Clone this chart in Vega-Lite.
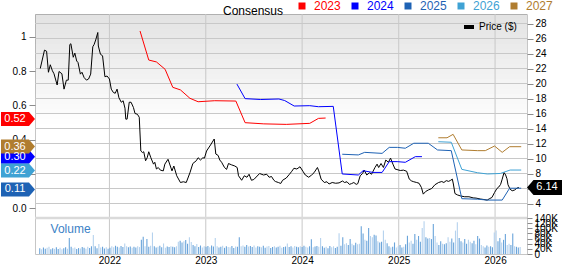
{
"$schema":"https://vega.github.io/schema/vega-lite/v6.json",
"width":492,"height":240,
"autosize":{"type":"none"},
"padding":{"left":35,"top":14,"right":35,"bottom":10},
"background":"#ffffff",
"config":{
 "font":"Liberation Sans",
 "view":{"stroke":"#c6c6c6","strokeWidth":1},
 "axis":{"labelFont":"Liberation Sans","labelFontSize":10,"labelColor":"#111111","domain":false,"title":null,"grid":false,"tickColor":"#8c8c8c"},
 "legend":{"labelFont":"Liberation Sans","titleFont":"Liberation Sans","padding":0}
},
"resolve":{"scale":{"y":"independent"}},
"datasets":{
"bands":[{"k":0},{"k":1},{"k":2},{"k":3},{"k":4},{"k":5},{"k":6},{"k":7},{"k":8},{"k":9},{"k":10},{"k":11},{"k":12},{"k":13},{"k":14},{"k":15},{"k":16},{"k":17},{"k":18},{"k":19},{"k":20},{"k":21}],
"pgrid":[{"g":4},{"g":6},{"g":8},{"g":10},{"g":12},{"g":14},{"g":16},{"g":18},{"g":20},{"g":22},{"g":24},{"g":26},{"g":28}],
"years":[{"d":"2022-01-01"},{"d":"2023-01-01"},{"d":"2024-01-01"},{"d":"2025-01-01"},{"d":"2026-01-01"}],
"price":[
{"d":"2021-04-14","p":22.0},{"d":"2021-04-30","p":24.45},{"d":"2021-05-08","p":24.3},{"d":"2021-05-15","p":21.5},{"d":"2021-05-22","p":22.5},{"d":"2021-05-30","p":21.7},{"d":"2021-06-05","p":21.3},{"d":"2021-06-17","p":19.8},{"d":"2021-06-24","p":21.6},{"d":"2021-07-05","p":21.3},{"d":"2021-07-13","p":19.25},{"d":"2021-07-22","p":20.45},{"d":"2021-07-29","p":20.45},{"d":"2021-08-04","p":25.2},{"d":"2021-08-08","p":25.3},{"d":"2021-08-17","p":23.5},{"d":"2021-08-23","p":24.05},{"d":"2021-08-30","p":23.0},{"d":"2021-09-04","p":22.8},{"d":"2021-09-13","p":21.25},{"d":"2021-09-19","p":21.5},{"d":"2021-09-27","p":20.8},{"d":"2021-10-06","p":20.45},{"d":"2021-10-14","p":20.6},{"d":"2021-10-22","p":21.25},{"d":"2021-10-30","p":24.9},{"d":"2021-11-04","p":25.2},{"d":"2021-11-10","p":25.8},{"d":"2021-11-18","p":26.8},{"d":"2021-11-20","p":25.0},{"d":"2021-11-28","p":23.9},{"d":"2021-12-06","p":23.7},{"d":"2021-12-15","p":20.9},{"d":"2021-12-23","p":21.0},
{"d":"2022-01-01","p":20.6},{"d":"2022-01-08","p":19.25},{"d":"2022-01-16","p":18.8},{"d":"2022-01-23","p":18.7},{"d":"2022-01-30","p":19.25},{"d":"2022-02-06","p":18.1},{"d":"2022-02-15","p":17.5},{"d":"2022-02-22","p":17.7},{"d":"2022-03-01","p":16.7},{"d":"2022-03-04","p":15.25},{"d":"2022-03-09","p":15.25},{"d":"2022-03-17","p":17.5},{"d":"2022-03-24","p":17.5},{"d":"2022-04-02","p":16.8},{"d":"2022-04-08","p":16.0},{"d":"2022-04-17","p":15.9},{"d":"2022-04-24","p":15.5},{"d":"2022-04-30","p":11.0},{"d":"2022-05-06","p":10.8},{"d":"2022-05-11","p":10.9},{"d":"2022-05-18","p":9.7},{"d":"2022-05-24","p":10.1},{"d":"2022-05-30","p":10.9},{"d":"2022-06-07","p":10.1},{"d":"2022-06-17","p":9.25},{"d":"2022-06-22","p":9.5},{"d":"2022-06-28","p":8.6},{"d":"2022-07-05","p":8.8},{"d":"2022-07-13","p":8.45},{"d":"2022-07-24","p":8.35},{"d":"2022-07-30","p":9.25},{"d":"2022-08-11","p":9.9},{"d":"2022-08-26","p":8.35},{"d":"2022-09-02","p":9.0},{"d":"2022-09-13","p":7.7},{"d":"2022-09-27","p":6.8},{"d":"2022-10-08","p":6.9},{"d":"2022-10-19","p":6.8},{"d":"2022-11-02","p":8.1},{"d":"2022-11-13","p":9.33},{"d":"2022-11-26","p":9.7},{"d":"2022-12-03","p":10.1},{"d":"2022-12-12","p":9.8},{"d":"2022-12-21","p":10.1},{"d":"2022-12-27","p":10.05},
{"d":"2023-01-04","p":11.0},{"d":"2023-01-19","p":11.8},{"d":"2023-01-26","p":12.2},{"d":"2023-02-02","p":12.6},{"d":"2023-02-08","p":10.6},{"d":"2023-02-17","p":10.4},{"d":"2023-02-23","p":9.8},{"d":"2023-03-02","p":9.5},{"d":"2023-03-13","p":8.8},{"d":"2023-03-21","p":8.55},{"d":"2023-03-28","p":9.33},{"d":"2023-04-09","p":9.15},{"d":"2023-04-21","p":9.0},{"d":"2023-04-30","p":8.8},{"d":"2023-05-05","p":7.7},{"d":"2023-05-17","p":7.1},{"d":"2023-05-27","p":7.7},{"d":"2023-06-06","p":7.5},{"d":"2023-06-14","p":7.9},{"d":"2023-06-23","p":7.1},{"d":"2023-07-02","p":7.2},{"d":"2023-07-24","p":8.0},{"d":"2023-08-08","p":7.8},{"d":"2023-08-20","p":7.9},{"d":"2023-08-29","p":7.5},{"d":"2023-09-07","p":7.6},{"d":"2023-09-16","p":7.1},{"d":"2023-09-22","p":6.93},{"d":"2023-10-03","p":6.8},{"d":"2023-10-12","p":6.67},{"d":"2023-10-19","p":7.1},{"d":"2023-11-02","p":7.4},{"d":"2023-11-14","p":7.9},{"d":"2023-11-23","p":8.3},{"d":"2023-12-01","p":8.7},{"d":"2023-12-12","p":8.6},{"d":"2023-12-24","p":8.9},
{"d":"2024-01-04","p":8.3},{"d":"2024-01-13","p":7.8},{"d":"2024-01-26","p":7.5},{"d":"2024-02-06","p":7.8},{"d":"2024-02-15","p":8.1},{"d":"2024-02-28","p":8.8},{"d":"2024-03-04","p":8.35},{"d":"2024-03-13","p":7.25},{"d":"2024-03-25","p":6.8},{"d":"2024-04-04","p":6.9},{"d":"2024-04-12","p":6.6},{"d":"2024-04-24","p":6.8},{"d":"2024-05-07","p":6.7},{"d":"2024-05-20","p":6.75},{"d":"2024-06-02","p":7.0},{"d":"2024-06-10","p":6.8},{"d":"2024-06-19","p":6.9},{"d":"2024-06-28","p":6.55},{"d":"2024-07-06","p":6.65},{"d":"2024-07-15","p":6.8},{"d":"2024-07-24","p":6.55},{"d":"2024-07-30","p":6.65},{"d":"2024-08-08","p":7.7},{"d":"2024-08-17","p":8.0},{"d":"2024-08-23","p":8.45},{"d":"2024-09-02","p":7.8},{"d":"2024-09-12","p":8.1},{"d":"2024-09-20","p":7.9},{"d":"2024-10-03","p":8.8},{"d":"2024-10-11","p":9.25},{"d":"2024-10-17","p":8.8},{"d":"2024-10-26","p":9.33},{"d":"2024-11-04","p":8.8},{"d":"2024-11-13","p":9.8},{"d":"2024-11-23","p":9.5},{"d":"2024-12-01","p":10.05},{"d":"2024-12-10","p":9.25},{"d":"2024-12-18","p":8.6},
{"d":"2025-01-07","p":8.4},{"d":"2025-01-19","p":8.45},{"d":"2025-01-31","p":8.3},{"d":"2025-02-10","p":7.25},{"d":"2025-02-19","p":7.0},{"d":"2025-02-27","p":6.9},{"d":"2025-03-10","p":6.8},{"d":"2025-03-19","p":6.7},{"d":"2025-03-28","p":6.13},{"d":"2025-04-04","p":5.25},{"d":"2025-04-13","p":5.6},{"d":"2025-04-23","p":5.8},{"d":"2025-05-06","p":6.0},{"d":"2025-05-18","p":6.5},{"d":"2025-06-01","p":6.8},{"d":"2025-06-13","p":6.93},{"d":"2025-06-21","p":6.8},{"d":"2025-06-30","p":7.05},{"d":"2025-07-09","p":6.95},{"d":"2025-07-17","p":7.1},{"d":"2025-07-23","p":7.25},{"d":"2025-07-27","p":6.6},{"d":"2025-08-02","p":5.33},{"d":"2025-08-11","p":5.15},{"d":"2025-08-24","p":5.0},{"d":"2025-09-08","p":4.9},{"d":"2025-09-24","p":4.9},{"d":"2025-10-10","p":4.75},{"d":"2025-10-21","p":4.72},{"d":"2025-11-06","p":4.6},{"d":"2025-11-20","p":4.53},{"d":"2025-12-02","p":4.45},{"d":"2025-12-11","p":4.65},{"d":"2025-12-20","p":4.8},{"d":"2025-12-30","p":5.47},
{"d":"2026-01-08","p":6.0},{"d":"2026-01-15","p":6.2},{"d":"2026-01-22","p":6.55},{"d":"2026-01-28","p":7.25},{"d":"2026-02-04","p":8.13},{"d":"2026-02-10","p":7.8},{"d":"2026-02-15","p":7.3},{"d":"2026-02-19","p":6.5},{"d":"2026-02-27","p":5.9},{"d":"2026-03-07","p":5.7},{"d":"2026-03-16","p":5.8},{"d":"2026-03-25","p":6.05},{"d":"2026-04-01","p":6.14}
],
"cons":[
{"s":"2023","d":"2022-04-27","v":1.033},{"s":"2023","d":"2022-05-30","v":0.864},{"s":"2023","d":"2022-06-28","v":0.853},{"s":"2023","d":"2022-07-31","v":0.81},{"s":"2023","d":"2022-08-29","v":0.705},{"s":"2023","d":"2022-09-27","v":0.69},{"s":"2023","d":"2022-11-02","v":0.641},{"s":"2023","d":"2022-12-03","v":0.621},{"s":"2023","d":"2023-02-04","v":0.627},{"s":"2023","d":"2023-04-25","v":0.625},{"s":"2023","d":"2023-05-30","v":0.499},{"s":"2023","d":"2023-08-09","v":0.492},{"s":"2023","d":"2023-11-02","v":0.489},{"s":"2023","d":"2024-01-30","v":0.495},{"s":"2023","d":"2024-03-03","v":0.524},{"s":"2023","d":"2024-03-30","v":0.526},
{"s":"2024","d":"2023-04-29","v":0.724},{"s":"2024","d":"2023-05-30","v":0.639},{"s":"2024","d":"2023-07-28","v":0.634},{"s":"2024","d":"2023-10-05","v":0.637},{"s":"2024","d":"2023-10-27","v":0.628},{"s":"2024","d":"2023-12-02","v":0.596},{"s":"2024","d":"2024-01-30","v":0.598},{"s":"2024","d":"2024-03-03","v":0.592},{"s":"2024","d":"2024-04-28","v":0.594},{"s":"2024","d":"2024-06-01","v":0.2},{"s":"2024","d":"2024-08-01","v":0.194},{"s":"2024","d":"2024-08-19","v":0.219},{"s":"2024","d":"2024-09-25","v":0.209},{"s":"2024","d":"2024-10-30","v":0.209},{"s":"2024","d":"2024-11-26","v":0.272},{"s":"2024","d":"2024-12-26","v":0.272},{"s":"2024","d":"2025-01-26","v":0.268},{"s":"2024","d":"2025-03-05","v":0.301},{"s":"2024","d":"2025-03-30","v":0.301},
{"s":"2025","d":"2024-06-01","v":0.315},{"s":"2025","d":"2024-08-01","v":0.311},{"s":"2025","d":"2024-08-25","v":0.326},{"s":"2025","d":"2024-10-30","v":0.32},{"s":"2025","d":"2024-11-26","v":0.355},{"s":"2025","d":"2024-12-27","v":0.355},{"s":"2025","d":"2025-01-26","v":0.35},{"s":"2025","d":"2025-02-27","v":0.379},{"s":"2025","d":"2025-04-23","v":0.379},{"s":"2025","d":"2025-05-28","v":0.34},{"s":"2025","d":"2025-07-19","v":0.336},{"s":"2025","d":"2025-08-28","v":0.056},{"s":"2025","d":"2025-10-27","v":0.053},{"s":"2025","d":"2025-12-03","v":0.048},{"s":"2025","d":"2026-01-28","v":0.048},{"s":"2025","d":"2026-02-25","v":0.117},{"s":"2025","d":"2026-04-10","v":0.117},
{"s":"2026","d":"2025-05-31","v":0.388},{"s":"2026","d":"2025-07-19","v":0.385},{"s":"2026","d":"2025-08-28","v":0.227},{"s":"2026","d":"2025-10-27","v":0.207},{"s":"2026","d":"2025-12-03","v":0.2},{"s":"2026","d":"2026-01-21","v":0.203},{"s":"2026","d":"2026-02-27","v":0.223},{"s":"2026","d":"2026-04-10","v":0.223},
{"s":"2027","d":"2025-05-31","v":0.411},{"s":"2027","d":"2025-07-03","v":0.411},{"s":"2027","d":"2025-07-26","v":0.431},{"s":"2027","d":"2025-08-28","v":0.34},{"s":"2027","d":"2025-10-27","v":0.336},{"s":"2027","d":"2025-11-25","v":0.336},{"s":"2027","d":"2025-12-30","v":0.363},{"s":"2027","d":"2026-01-28","v":0.326},{"s":"2027","d":"2026-02-25","v":0.359},{"s":"2027","d":"2026-04-10","v":0.359}
],
"tags":[
{"s":"2024","v":0.30,"t":"0.30"},{"s":"2023","v":0.52,"t":"0.52"},{"s":"2027","v":0.36,"t":"0.36"},{"s":"2026","v":0.22,"t":"0.22"},{"s":"2025","v":0.11,"t":"0.11"}
],
"vol":[
{"d":"2021-04-12","v":22,"c":"b"},{"d":"2021-04-19","v":18,"c":"a"},{"d":"2021-04-26","v":25,"c":"b"},{"d":"2021-05-03","v":20,"c":"b"},{"d":"2021-05-10","v":24,"c":"a"},{"d":"2021-05-17","v":28,"c":"a"},{"d":"2021-05-24","v":18,"c":"b"},{"d":"2021-05-31","v":22,"c":"b"},{"d":"2021-06-07","v":20,"c":"a"},{"d":"2021-06-14","v":26,"c":"b"},{"d":"2021-06-21","v":19,"c":"b"},{"d":"2021-06-28","v":24,"c":"a"},{"d":"2021-07-05","v":18,"c":"a"},{"d":"2021-07-12","v":22,"c":"b"},{"d":"2021-07-19","v":26,"c":"b"},{"d":"2021-07-26","v":20,"c":"a"},{"d":"2021-08-02","v":62,"c":"b"},{"d":"2021-08-09","v":28,"c":"b"},{"d":"2021-08-16","v":22,"c":"a"},{"d":"2021-08-23","v":25,"c":"a"},{"d":"2021-08-30","v":19,"c":"b"},{"d":"2021-09-06","v":23,"c":"b"},{"d":"2021-09-13","v":21,"c":"a"},{"d":"2021-09-20","v":27,"c":"b"},{"d":"2021-09-27","v":24,"c":"b"},{"d":"2021-10-04","v":20,"c":"a"},{"d":"2021-10-11","v":28,"c":"a"},{"d":"2021-10-18","v":23,"c":"b"},{"d":"2021-10-25","v":30,"c":"b"},{"d":"2021-11-01","v":74,"c":"a"},{"d":"2021-11-08","v":30,"c":"b"},{"d":"2021-11-15","v":22,"c":"b"},{"d":"2021-11-22","v":39,"c":"a"},{"d":"2021-11-29","v":25,"c":"a"},{"d":"2021-12-06","v":28,"c":"b"},{"d":"2021-12-13","v":21,"c":"b"},{"d":"2021-12-20","v":26,"c":"a"},{"d":"2021-12-27","v":20,"c":"b"},
{"d":"2022-01-03","v":24,"c":"b"},{"d":"2022-01-10","v":30,"c":"a"},{"d":"2022-01-17","v":26,"c":"a"},{"d":"2022-01-24","v":32,"c":"b"},{"d":"2022-01-31","v":28,"c":"b"},{"d":"2022-02-07","v":25,"c":"a"},{"d":"2022-02-14","v":31,"c":"b"},{"d":"2022-02-21","v":27,"c":"b"},{"d":"2022-02-28","v":41,"c":"a"},{"d":"2022-03-07","v":30,"c":"a"},{"d":"2022-03-14","v":26,"c":"b"},{"d":"2022-03-21","v":29,"c":"b"},{"d":"2022-03-28","v":24,"c":"a"},{"d":"2022-04-04","v":28,"c":"b"},{"d":"2022-04-11","v":25,"c":"b"},{"d":"2022-04-18","v":30,"c":"a"},{"d":"2022-04-25","v":27,"c":"a"},{"d":"2022-05-02","v":55,"c":"b"},{"d":"2022-05-09","v":67,"c":"b"},{"d":"2022-05-16","v":30,"c":"a"},{"d":"2022-05-23","v":58,"c":"b"},{"d":"2022-05-30","v":28,"c":"b"},{"d":"2022-06-06","v":32,"c":"a"},{"d":"2022-06-13","v":84,"c":"a"},{"d":"2022-06-20","v":30,"c":"b"},{"d":"2022-06-27","v":25,"c":"b"},{"d":"2022-07-04","v":28,"c":"a"},{"d":"2022-07-11","v":32,"c":"b"},{"d":"2022-07-18","v":26,"c":"b"},{"d":"2022-07-25","v":41,"c":"a"},{"d":"2022-08-01","v":24,"c":"a"},{"d":"2022-08-08","v":29,"c":"b"},{"d":"2022-08-15","v":27,"c":"b"},{"d":"2022-08-22","v":30,"c":"a"},{"d":"2022-08-29","v":28,"c":"b"},{"d":"2022-09-05","v":26,"c":"b"},{"d":"2022-09-12","v":30,"c":"a"},{"d":"2022-09-19","v":48,"c":"a"},{"d":"2022-09-26","v":52,"c":"b"},{"d":"2022-10-03","v":45,"c":"b"},{"d":"2022-10-10","v":50,"c":"a"},{"d":"2022-10-17","v":54,"c":"b"},{"d":"2022-10-24","v":40,"c":"b"},{"d":"2022-10-31","v":65,"c":"a"},{"d":"2022-11-07","v":47,"c":"a"},{"d":"2022-11-14","v":35,"c":"b"},{"d":"2022-11-21","v":30,"c":"b"},{"d":"2022-11-28","v":39,"c":"a"},{"d":"2022-12-05","v":27,"c":"b"},{"d":"2022-12-12","v":33,"c":"b"},{"d":"2022-12-19","v":25,"c":"a"},{"d":"2022-12-26","v":30,"c":"a"},
{"d":"2023-01-02","v":28,"c":"b"},{"d":"2023-01-09","v":31,"c":"b"},{"d":"2023-01-16","v":26,"c":"a"},{"d":"2023-01-23","v":33,"c":"b"},{"d":"2023-01-30","v":29,"c":"b"},{"d":"2023-02-06","v":62,"c":"a"},{"d":"2023-02-13","v":30,"c":"a"},{"d":"2023-02-20","v":25,"c":"b"},{"d":"2023-02-27","v":28,"c":"b"},{"d":"2023-03-06","v":32,"c":"a"},{"d":"2023-03-13","v":24,"c":"b"},{"d":"2023-03-20","v":30,"c":"b"},{"d":"2023-03-27","v":27,"c":"a"},{"d":"2023-04-03","v":26,"c":"a"},{"d":"2023-04-10","v":31,"c":"b"},{"d":"2023-04-17","v":23,"c":"b"},{"d":"2023-04-24","v":29,"c":"a"},{"d":"2023-05-01","v":28,"c":"b"},{"d":"2023-05-08","v":65,"c":"b"},{"d":"2023-05-15","v":30,"c":"a"},{"d":"2023-05-22","v":33,"c":"a"},{"d":"2023-05-29","v":28,"c":"b"},{"d":"2023-06-05","v":35,"c":"b"},{"d":"2023-06-12","v":29,"c":"a"},{"d":"2023-06-19","v":31,"c":"b"},{"d":"2023-06-26","v":27,"c":"b"},{"d":"2023-07-03","v":33,"c":"a"},{"d":"2023-07-10","v":25,"c":"a"},{"d":"2023-07-17","v":30,"c":"b"},{"d":"2023-07-24","v":28,"c":"b"},{"d":"2023-07-31","v":26,"c":"a"},{"d":"2023-08-07","v":32,"c":"b"},{"d":"2023-08-14","v":24,"c":"b"},{"d":"2023-08-21","v":29,"c":"a"},{"d":"2023-08-28","v":31,"c":"a"},{"d":"2023-09-04","v":23,"c":"b"},{"d":"2023-09-11","v":27,"c":"b"},{"d":"2023-09-18","v":30,"c":"a"},{"d":"2023-09-25","v":25,"c":"b"},{"d":"2023-10-02","v":28,"c":"b"},{"d":"2023-10-09","v":32,"c":"a"},{"d":"2023-10-16","v":24,"c":"a"},{"d":"2023-10-23","v":27,"c":"b"},{"d":"2023-10-30","v":29,"c":"b"},{"d":"2023-11-06","v":41,"c":"a"},{"d":"2023-11-13","v":27,"c":"b"},{"d":"2023-11-20","v":30,"c":"b"},{"d":"2023-11-27","v":25,"c":"a"},{"d":"2023-12-04","v":31,"c":"a"},{"d":"2023-12-11","v":28,"c":"b"},{"d":"2023-12-18","v":26,"c":"b"},{"d":"2023-12-25","v":30,"c":"a"},
{"d":"2024-01-01","v":27,"c":"b"},{"d":"2024-01-08","v":32,"c":"b"},{"d":"2024-01-15","v":28,"c":"a"},{"d":"2024-01-22","v":25,"c":"a"},{"d":"2024-01-29","v":30,"c":"b"},{"d":"2024-02-05","v":57,"c":"b"},{"d":"2024-02-12","v":26,"c":"a"},{"d":"2024-02-19","v":29,"c":"b"},{"d":"2024-02-26","v":31,"c":"b"},{"d":"2024-03-04","v":28,"c":"a"},{"d":"2024-03-11","v":62,"c":"a"},{"d":"2024-03-18","v":30,"c":"b"},{"d":"2024-03-25","v":24,"c":"b"},{"d":"2024-04-01","v":28,"c":"a"},{"d":"2024-04-08","v":22,"c":"b"},{"d":"2024-04-15","v":31,"c":"b"},{"d":"2024-04-22","v":26,"c":"a"},{"d":"2024-04-29","v":30,"c":"a"},{"d":"2024-05-06","v":23,"c":"b"},{"d":"2024-05-13","v":28,"c":"b"},{"d":"2024-05-20","v":81,"c":"a"},{"d":"2024-05-27","v":32,"c":"b"},{"d":"2024-06-03","v":65,"c":"b"},{"d":"2024-06-10","v":38,"c":"a"},{"d":"2024-06-17","v":42,"c":"a"},{"d":"2024-06-24","v":35,"c":"b"},{"d":"2024-07-01","v":58,"c":"b"},{"d":"2024-07-08","v":40,"c":"a"},{"d":"2024-07-15","v":34,"c":"b"},{"d":"2024-07-22","v":44,"c":"b"},{"d":"2024-07-29","v":38,"c":"a"},{"d":"2024-08-05","v":40,"c":"a"},{"d":"2024-08-12","v":108,"c":"b"},{"d":"2024-08-19","v":80,"c":"b"},{"d":"2024-08-26","v":55,"c":"a"},{"d":"2024-09-02","v":52,"c":"b"},{"d":"2024-09-09","v":101,"c":"b"},{"d":"2024-09-16","v":70,"c":"a"},{"d":"2024-09-23","v":65,"c":"a"},{"d":"2024-09-30","v":75,"c":"b"},{"d":"2024-10-07","v":72,"c":"b"},{"d":"2024-10-14","v":50,"c":"a"},{"d":"2024-10-21","v":45,"c":"b"},{"d":"2024-10-28","v":48,"c":"b"},{"d":"2024-11-04","v":91,"c":"a"},{"d":"2024-11-11","v":55,"c":"a"},{"d":"2024-11-18","v":42,"c":"b"},{"d":"2024-11-25","v":30,"c":"b"},{"d":"2024-12-02","v":25,"c":"a"},{"d":"2024-12-09","v":28,"c":"b"},{"d":"2024-12-16","v":45,"c":"b"},{"d":"2024-12-23","v":25,"c":"a"},{"d":"2024-12-30","v":30,"c":"a"},
{"d":"2025-01-06","v":35,"c":"b"},{"d":"2025-01-13","v":25,"c":"b"},{"d":"2025-01-20","v":28,"c":"a"},{"d":"2025-01-27","v":38,"c":"b"},{"d":"2025-02-03","v":71,"c":"b"},{"d":"2025-02-10","v":45,"c":"a"},{"d":"2025-02-17","v":52,"c":"a"},{"d":"2025-02-24","v":40,"c":"b"},{"d":"2025-03-03","v":78,"c":"b"},{"d":"2025-03-10","v":55,"c":"a"},{"d":"2025-03-17","v":70,"c":"b"},{"d":"2025-03-24","v":48,"c":"b"},{"d":"2025-03-31","v":101,"c":"a"},{"d":"2025-04-07","v":127,"c":"a"},{"d":"2025-04-14","v":65,"c":"b"},{"d":"2025-04-21","v":60,"c":"b"},{"d":"2025-04-28","v":62,"c":"a"},{"d":"2025-05-05","v":58,"c":"b"},{"d":"2025-05-12","v":117,"c":"b"},{"d":"2025-05-19","v":70,"c":"a"},{"d":"2025-05-26","v":45,"c":"a"},{"d":"2025-06-02","v":35,"c":"b"},{"d":"2025-06-09","v":50,"c":"b"},{"d":"2025-06-16","v":40,"c":"a"},{"d":"2025-06-23","v":38,"c":"b"},{"d":"2025-06-30","v":42,"c":"b"},{"d":"2025-07-07","v":65,"c":"a"},{"d":"2025-07-14","v":48,"c":"a"},{"d":"2025-07-21","v":60,"c":"b"},{"d":"2025-07-28","v":45,"c":"b"},{"d":"2025-08-04","v":91,"c":"a"},{"d":"2025-08-11","v":123,"c":"a"},{"d":"2025-08-18","v":62,"c":"b"},{"d":"2025-08-25","v":50,"c":"b"},{"d":"2025-09-01","v":45,"c":"a"},{"d":"2025-09-08","v":58,"c":"b"},{"d":"2025-09-15","v":40,"c":"b"},{"d":"2025-09-22","v":55,"c":"a"},{"d":"2025-09-29","v":48,"c":"a"},{"d":"2025-10-06","v":42,"c":"b"},{"d":"2025-10-13","v":52,"c":"b"},{"d":"2025-10-20","v":38,"c":"a"},{"d":"2025-10-27","v":70,"c":"b"},{"d":"2025-11-03","v":60,"c":"b"},{"d":"2025-11-10","v":35,"c":"a"},{"d":"2025-11-17","v":30,"c":"a"},{"d":"2025-11-24","v":25,"c":"b"},{"d":"2025-12-01","v":33,"c":"b"},{"d":"2025-12-08","v":28,"c":"a"},{"d":"2025-12-15","v":30,"c":"b"},{"d":"2025-12-22","v":26,"c":"b"},{"d":"2025-12-29","v":84,"c":"a"},
{"d":"2026-01-05","v":91,"c":"a"},{"d":"2026-01-12","v":50,"c":"b"},{"d":"2026-01-19","v":62,"c":"b"},{"d":"2026-01-26","v":45,"c":"a"},{"d":"2026-02-02","v":55,"c":"b"},{"d":"2026-02-09","v":78,"c":"b"},{"d":"2026-02-16","v":35,"c":"a"},{"d":"2026-02-23","v":40,"c":"a"},{"d":"2026-03-02","v":35,"c":"b"},{"d":"2026-03-09","v":80,"c":"b"},{"d":"2026-03-16","v":30,"c":"a"},{"d":"2026-03-23","v":28,"c":"b"},{"d":"2026-03-30","v":25,"c":"b"},{"d":"2026-04-06","v":27,"c":"a"}
]
},
"layer":[
{"data":{"name":"bands"},"mark":{"type":"rect","color":"#000000"},
 "encoding":{
  "y":{"field":"k","type":"ordinal","scale":{"range":[0,110],"paddingInner":0,"paddingOuter":0},"axis":null},
  "opacity":{"field":"k","type":"quantitative","scale":{"domain":[0,21],"range":[0.11,0.004]},"legend":null}}},
{"layer":[
 {"data":{"name":"years"},"mark":{"type":"rule","color":"#c8c8c8","strokeWidth":1},
  "encoding":{
   "x":{"field":"d","type":"temporal","scale":{"type":"utc","domain":[{"year":2021,"month":4,"date":13,"utc":true},{"year":2026,"month":4,"date":13,"utc":true}]},
        "axis":{"orient":"bottom","values":[{"year":2022,"month":1,"date":1,"utc":true},{"year":2023,"month":1,"date":1,"utc":true},{"year":2024,"month":1,"date":1,"utc":true},{"year":2025,"month":1,"date":1,"utc":true},{"year":2026,"month":1,"date":1,"utc":true}],"tickCount":30,"format":"%Y","grid":false,"ticks":false,"labelPadding":1,"labelColor":"#000000","labelFlush":false,"labelOverlap":false}}}},
 {"data":{"name":"vol"},"mark":{"type":"bar","size":1.1},
  "encoding":{
   "x":{"field":"d","type":"temporal"},
   "y":{"field":"v","type":"quantitative","scale":{"domain":[0,140],"range":[240,204],"nice":false,"zero":true},
        "axis":{"orient":"right","values":[0,20,40,60,80,100,120,140],"tickCount":30,"labelExpr":"datum.value == 0 ? '0' : datum.value + 'K'","grid":false,"tickSize":5,"labelPadding":2,"labelOverlap":false,"labelFlush":false,"labelBound":false,"labelColor":"#000000"}},
   "fill":{"field":"c","type":"nominal","scale":{"domain":["a","b"],"range":["#b5d2ee","#6aa4da"]},"legend":null}
  }},
 {"data":{"values":[{"v":140}]},"mark":{"type":"rule","color":"#dadada","strokeWidth":2.5},
  "encoding":{"y":{"field":"v","type":"quantitative"}}},
 {"data":{"values":[{}]},"mark":{"type":"text","text":"Volume","fontSize":12,"color":"#3b82c6","align":"left","baseline":"middle","font":"Liberation Sans"},
  "encoding":{"x":{"datum":{"year":2021,"month":5,"date":23,"utc":true},"type":"temporal"},"y":{"datum":97,"type":"quantitative"}}}
]},
{"layer":[
 {"data":{"name":"pgrid"},"mark":{"type":"rule","color":"#c8c8c8","strokeWidth":1},
  "encoding":{"y":{"field":"g","type":"quantitative","scale":{"domain":[2.2,29.2667],"range":[203,0],"nice":false,"zero":false},
        "axis":{"orient":"right","values":[4,6,8,10,12,14,16,18,20,22,24,26,28],"tickCount":30,"grid":false,"tickSize":6,"labelPadding":2,"labelColor":"#000000","labelFlush":false,"labelOverlap":false}}}},
 {"data":{"name":"price"},"mark":{"type":"line","strokeWidth":1},
  "encoding":{
   "x":{"field":"d","type":"temporal"},
   "y":{"field":"p","type":"quantitative"},
   "stroke":{"datum":"Price ($)","type":"nominal","scale":{"range":["#000000"]},
     "legend":{"orient":"none","legendX":429,"legendY":8,"title":null,"symbolType":"M-1,-0.4H1V0.4H-1Z","symbolSize":100,"symbolFillColor":"#000000","symbolStrokeColor":"#000000","symbolStrokeWidth":0,"labelFontSize":10,"labelOffset":5,"labelColor":"#000000"}}
  }},
 {"data":{"values":[{"p":6.14,"t":"6.14"}]},"mark":{"type":"point","shape":"M0,0L0.87,-1L4.8,-1L4.8,1L0.87,1Z","size":225,"filled":true,"color":"#000000","opacity":1,"strokeWidth":0},
  "encoding":{"x":{"value":"width"},"y":{"field":"p","type":"quantitative"}}},
 {"data":{"values":[{"p":6.14,"t":"6.14"}]},"mark":{"type":"text","dx":20,"fontSize":11,"color":"#ffffff","align":"center","baseline":"middle","font":"Liberation Sans"},
  "encoding":{"x":{"value":"width"},"y":{"field":"p","type":"quantitative"},"text":{"field":"t"}}}
]},
{"layer":[
 {"data":{"name":"cons"},"mark":{"type":"line","strokeWidth":1},
  "encoding":{
   "x":{"field":"d","type":"temporal"},
   "y":{"field":"v","type":"quantitative","scale":{"domain":[-0.0507,1.1323],"range":[203,0],"nice":false,"zero":false},
        "axis":{"orient":"left","values":[0,0.2,0.4,0.6,0.8,1],"tickCount":30,"labelExpr":"datum.value == 1 ? '1' : format(datum.value, '.1f')","grid":false,"tickSize":6,"labelPadding":3,"labelColor":"#000000","labelFlush":false,"labelOverlap":false}},
   "color":{"field":"s","type":"nominal","scale":{"domain":["2023","2024","2025","2026","2027"],"range":["#ff0000","#0000ff","#1e62b4","#3fa2d4","#b07d2f"]},
     "legend":{"orient":"none","legendX":188,"legendY":-14,"direction":"horizontal","title":"Consensus","titleOrient":"left","titleFontSize":12,"titleFontWeight":"normal","titleColor":"#000000","titlePadding":12,"titleBaseline":"top","labelFontSize":12,"symbolType":"square","symbolSize":49,"symbolStrokeWidth":0,"labelOffset":6,"columnPadding":8,
       "encode":{"labels":{"update":{"fill":{"scale":"color","field":"value"}}},"symbols":{"update":{"fill":{"scale":"color","field":"value"},"stroke":{"value":"transparent"}}}}}}
  }},
 {"data":{"name":"tags"},"mark":{"type":"point","shape":"M-4.86,-1L-0.86,-1L0,0L-0.86,1L-4.86,1Z","size":196,"filled":true,"opacity":1,"strokeWidth":0},
  "encoding":{"x":{"value":0},"y":{"field":"v","type":"quantitative"},"color":{"field":"s","type":"nominal"}}},
 {"data":{"name":"tags"},"mark":{"type":"text","dx":-20,"fontSize":11,"color":"#ffffff","align":"center","baseline":"middle","font":"Liberation Sans"},
  "encoding":{"x":{"value":0},"y":{"field":"v","type":"quantitative"},"text":{"field":"t"}}}
]}
]
}
